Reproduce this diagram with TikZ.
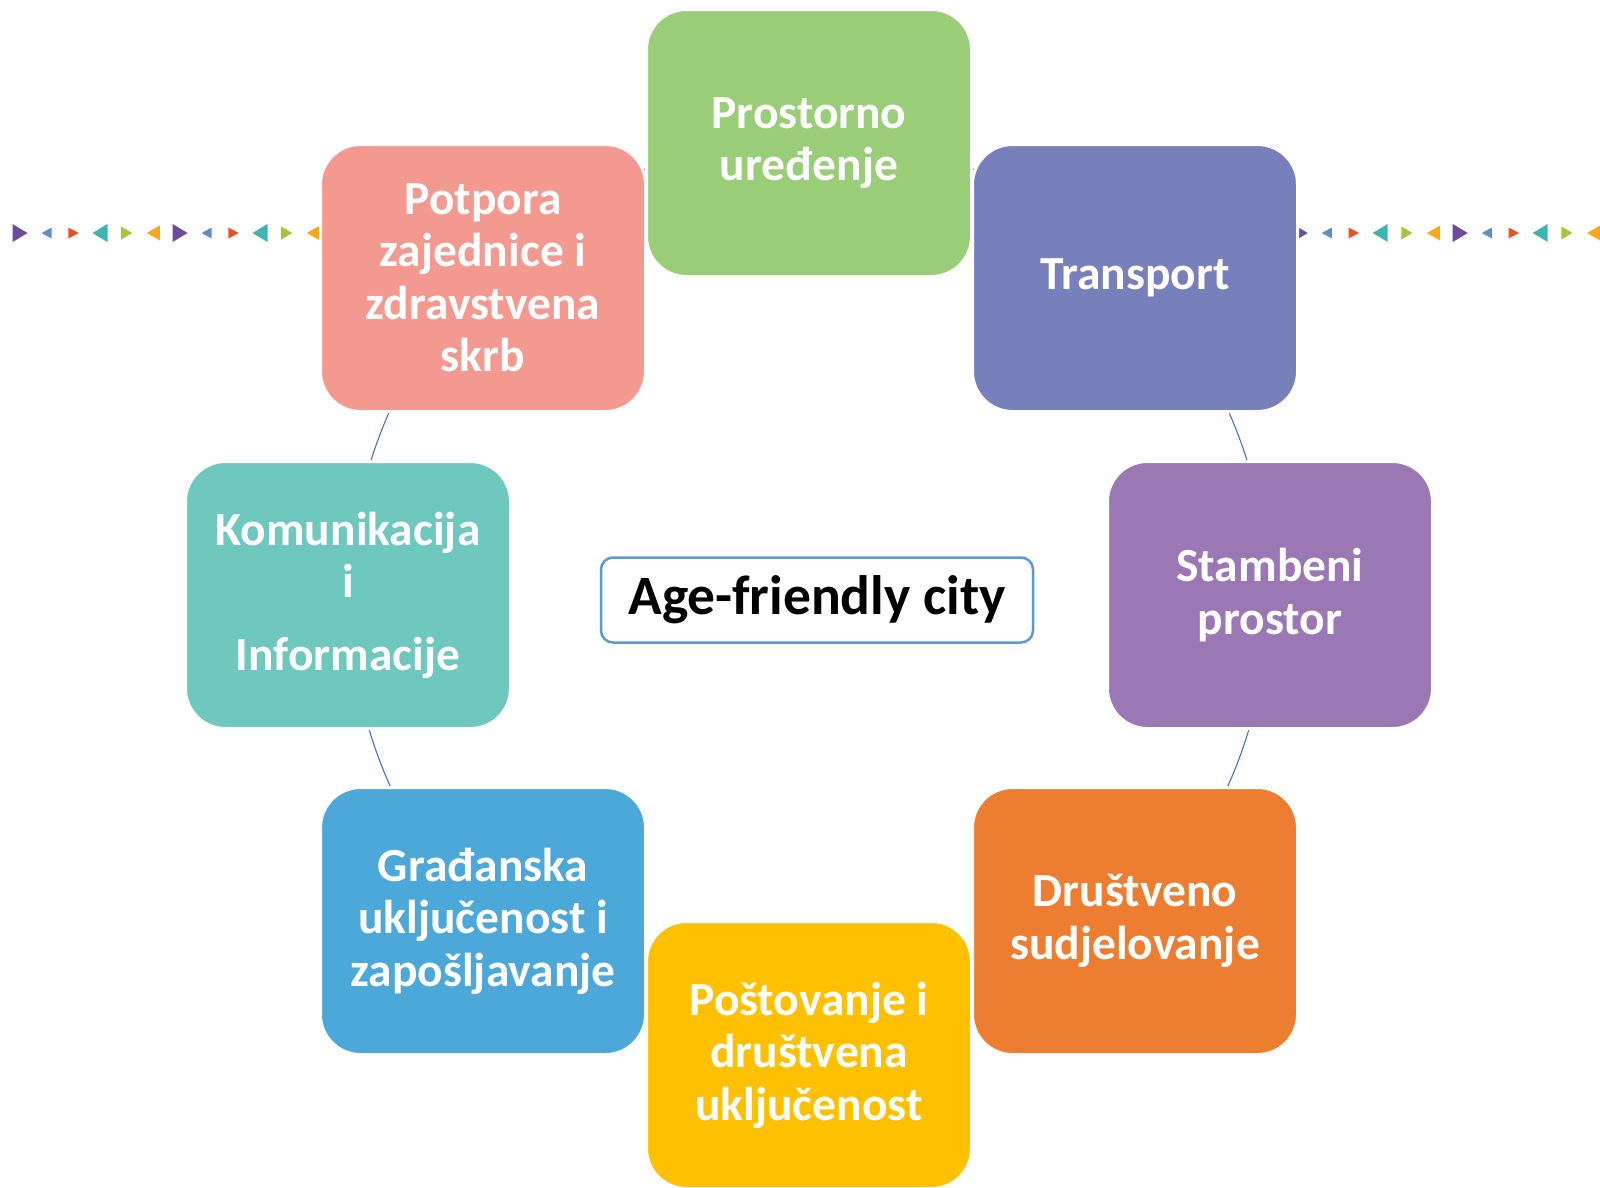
\documentclass[tikz,border=0pt]{standalone}
\usepackage{fontspec}
\setmainfont{Carlito}
\definecolor{cgreen}{HTML}{9ACD78}
\definecolor{cnavy}{HTML}{7880BC}
\definecolor{cviolet}{HTML}{9B77B4}
\definecolor{corange}{HTML}{ED7D31}
\definecolor{cyellow}{HTML}{FFC000}
\definecolor{cblue}{HTML}{4BA8D8}
\definecolor{cteal}{HTML}{6EC8BE}
\definecolor{csalmon}{HTML}{F4998F}
\definecolor{cline}{HTML}{4472C4}
\definecolor{cframe}{HTML}{5B9BD5}
\definecolor{tpurple}{HTML}{6A4C9C}
\definecolor{tblue}{HTML}{5B8FC9}
\definecolor{tred}{HTML}{E8531F}
\definecolor{tteal}{HTML}{3BB5AF}
\definecolor{tgreen}{HTML}{A4C639}
\definecolor{torange}{HTML}{F5A81C}
\begin{document}
\begin{tikzpicture}[x=1pt,y=-1pt,
  areabox/.style={rectangle, rounded corners=40pt, minimum width=325pt, minimum height=267pt,
    draw=white, line width=3pt,
    inner sep=0pt, text=white, align=center, font=\fontsize{47.5}{52.5}\selectfont\bfseries},
  centerbox/.style={rectangle, rounded corners=12pt, minimum width=432pt, minimum height=85pt,
    draw=cframe, line width=2.5pt, fill=white, text=black, font=\fontsize{55.5}{60}\selectfont\bfseries},
  ring/.style={draw=cline, line width=1.1pt}]
\useasboundingbox (0,0) rectangle (1600,1187);
\fill[white] (0,0) rectangle (1600,1187);
% row of small triangles
\foreach \i in {0,...,59}{
  \pgfmathsetmacro\xx{20+26.67*\i}
  \pgfmathtruncatemacro\k{mod(\i,6)}
  \ifcase\k
    \fill[tpurple] (\xx-7.5,224) -- (\xx+7.5,233) -- (\xx-7.5,242) -- cycle;
  \or
    \fill[tblue] (\xx+5,227.5) -- (\xx-5,233) -- (\xx+5,238.5) -- cycle;
  \or
    \fill[tred] (\xx-5,227.5) -- (\xx+5.5,233) -- (\xx-5,238.5) -- cycle;
  \or
    \fill[tteal] (\xx+7.5,224) -- (\xx-7.5,233) -- (\xx+7.5,242) -- cycle;
  \or
    \fill[tgreen] (\xx-5.5,226.5) -- (\xx+5.5,233) -- (\xx-5.5,239.5) -- cycle;
  \or
    \fill[torange] (\xx+6.5,225.5) -- (\xx-6.5,233) -- (\xx+6.5,240.5) -- cycle;
  \fi
}
% ring
\coordinate (ctr) at (809,598);
\draw[ring] (ctr) circle[radius=459pt];
% boxes
\node[areabox, fill=cgreen]   (prost) at (809,143)  {Prostorno\\uređenje};
\node[areabox, fill=cnavy]    (trans) at (1135,278) {Transport};
\node[areabox, fill=cviolet]  (stamb) at (1270,595) {Stambeni\\prostor};
\node[areabox, fill=corange]  (drus)  at (1135,921) {Društveno\\sudjelovanje};
\node[areabox, fill=cyellow]  (post)  at (809,1055) {Poštovanje i\\društvena\\uključenost};
\node[areabox, fill=cblue]    (grad)  at (483,921)  {Građanska\\uključenost i\\zapošljavanje};
\node[areabox, fill=cteal]    (komu)  at (348,595)  {Komunikacija\\i\\[20pt]Informacije};
\node[areabox, fill=csalmon]  (potp)  at (483,278)  {Potpora\\zajednice i\\zdravstvena\\skrb};
\node[centerbox] (city) at (817,600) {Age-friendly city};
\end{tikzpicture}
\end{document}
